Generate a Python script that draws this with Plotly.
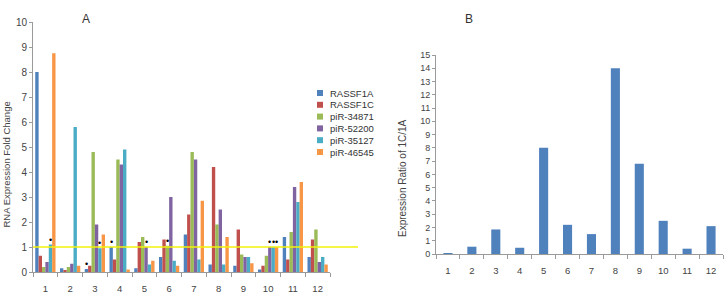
import plotly.graph_objects as go

W, H = 725, 295

groups = [str(i) for i in range(1, 13)]
series_names = ["RASSF1A", "RASSF1C", "piR-34871", "piR-52200", "piR-35127", "piR-46545"]
series_colors = ["#4F81BD", "#C0504D", "#9BBB59", "#8064A2", "#4BACC6", "#F79646"]

rassf1a  = [8.0, 0.15, 0.12, 1.0, 0.15, 0.6, 1.5, 0.3, 0.25, 0.1, 1.4, 0.6]
rassf1c  = [0.65, 0.08, 0.25, 0.5, 1.2, 1.3, 2.3, 4.2, 1.7, 0.25, 0.5, 1.3]
pir34871 = [0.2, 0.2, 4.8, 4.5, 1.4, 1.05, 4.8, 1.9, 0.7, 0.65, 1.6, 1.7]
pir52200 = [0.4, 0.33, 1.9, 4.3, 1.0, 3.0, 4.5, 2.5, 0.6, 1.0, 3.4, 0.4]
pir35127 = [1.1, 5.8, 0.95, 4.9, 0.3, 0.45, 0.5, 0.3, 0.6, 1.0, 2.8, 0.6]
pir46545 = [8.75, 0.25, 1.5, 0.1, 0.45, 0.25, 2.85, 1.4, 0.35, 1.0, 3.6, 0.3]
series_values = [rassf1a, rassf1c, pir34871, pir52200, pir35127, pir46545]

# significance dots: (group number, series index)
dots = [(1, 4), (3, 0), (3, 4), (4, 0), (5, 3), (6, 2), (10, 3), (10, 4), (10, 5)]

ratio_1c_1a = [0.05, 0.55, 1.85, 0.47, 8.0, 2.2, 1.5, 14.0, 6.8, 2.5, 0.4, 2.1]

# layout geometry (pixels)
LX0, LX1, LY0, LY1 = 33, 330, 272, 22
RX0, RX1, RY0, RY1 = 436, 723, 254, 55
BARGAP = 0.18

fig = go.Figure()
for name, col, vals in zip(series_names, series_colors, series_values):
    fig.add_trace(go.Bar(x=groups, y=vals, name=name, marker_color=col,
                         marker_line_width=0, xaxis="x", yaxis="y", showlegend=False))

fig.add_trace(go.Bar(x=groups, y=ratio_1c_1a, marker_color="#4F81BD", marker_line_width=0,
                     xaxis="x2", yaxis="y2", showlegend=False, width=0.38))

font = "Liberation Sans, Arial, sans-serif"
tickfont = dict(family=font, size=10, color="#444")
axline = "#9a9a9a"

fig.update_layout(
    width=W, height=H, margin=dict(l=0, r=0, t=0, b=0, autoexpand=False),
    paper_bgcolor="white", plot_bgcolor="white",
    barmode="group", bargap=BARGAP, bargroupgap=0,
    xaxis=dict(domain=[LX0 / W, LX1 / W], type="category", showline=True, linecolor=axline,
               ticks="outside", tickson="boundaries", ticklen=4, tickcolor=axline,
               showgrid=False, tickfont=dict(family=font, size=9.5, color="#444"),
               ticklabelstandoff=8, anchor="y", automargin=False),
    yaxis=dict(domain=[(H - LY0) / H, (H - LY1) / H], range=[0, 10], dtick=1,
               showline=True, linecolor=axline, ticks="outside", ticklen=3, tickcolor=axline,
               showgrid=False, zeroline=False, tickfont=tickfont, anchor="x",
               automargin=False),
    xaxis2=dict(domain=[RX0 / W, RX1 / W], type="category", showline=True, linecolor=axline,
                ticks="outside", tickson="boundaries", ticklen=4, tickcolor=axline,
                showgrid=False, tickfont=dict(family=font, size=9.5, color="#444"),
                ticklabelstandoff=8, anchor="y2", automargin=False),
    yaxis2=dict(domain=[(H - RY0) / H, (H - RY1) / H], range=[0, 15], dtick=1,
                showline=True, linecolor=axline, ticks="outside", ticklen=3, tickcolor=axline,
                showgrid=False, zeroline=False,
                tickfont=dict(family=font, size=9, color="#444"), anchor="x2",
                automargin=False),
)

# yellow reference line at fold change 1
fig.add_shape(type="line", xref="paper", yref="y", x0=LX0 / W, x1=358 / W, y0=1, y1=1,
              line=dict(color="#f2f20a", width=1.5))

# significance dots (category axis positions are given by index)
group_px = (LX1 - LX0) / len(groups)
bar_px = group_px * (1 - BARGAP) / len(series_names)
for g, si in dots:
    v = series_values[si][g - 1]
    fig.add_annotation(x=g - 1, y=v, xref="x", yref="y", text="•", showarrow=False,
                       xshift=(si - 2.5) * bar_px, yshift=5,
                       font=dict(family=font, size=9, color="black"))

# manual legend
for i, (name, col) in enumerate(zip(series_names, series_colors)):
    yc = 93 + i * 11.8
    fig.add_shape(type="rect", xref="paper", yref="paper",
                  x0=317 / W, x1=323 / W, y0=(H - yc - 3) / H, y1=(H - yc + 3) / H,
                  fillcolor=col, line_width=0)
    fig.add_annotation(x=328 / W, y=(H - yc) / H, xref="paper", yref="paper", text=name,
                       showarrow=False, xanchor="left", yanchor="middle",
                       font=dict(family=font, size=9.5, color="#333"))

# titles
fig.add_annotation(x=80 / W, y=(H - 10) / H, xref="paper", yref="paper", text="A",
                   showarrow=False, font=dict(family=font, size=12, color="#333"))
fig.add_annotation(x=469 / W, y=(H - 10) / H, xref="paper", yref="paper", text="B",
                   showarrow=False, font=dict(family=font, size=12, color="#333"))
fig.add_annotation(x=-2 / W, y=(H - 165) / H, xref="paper", yref="paper",
                   text="RNA Expression Fold Change", textangle=-90, showarrow=False,
                   font=dict(family=font, size=9.5, color="#444"))
fig.add_annotation(x=402 / W, y=(H - 178) / H, xref="paper", yref="paper",
                   text="Expression Ratio of 1C/1A", textangle=-90, showarrow=False,
                   font=dict(family=font, size=10, color="#444"))

fig.write_html("out.html")
